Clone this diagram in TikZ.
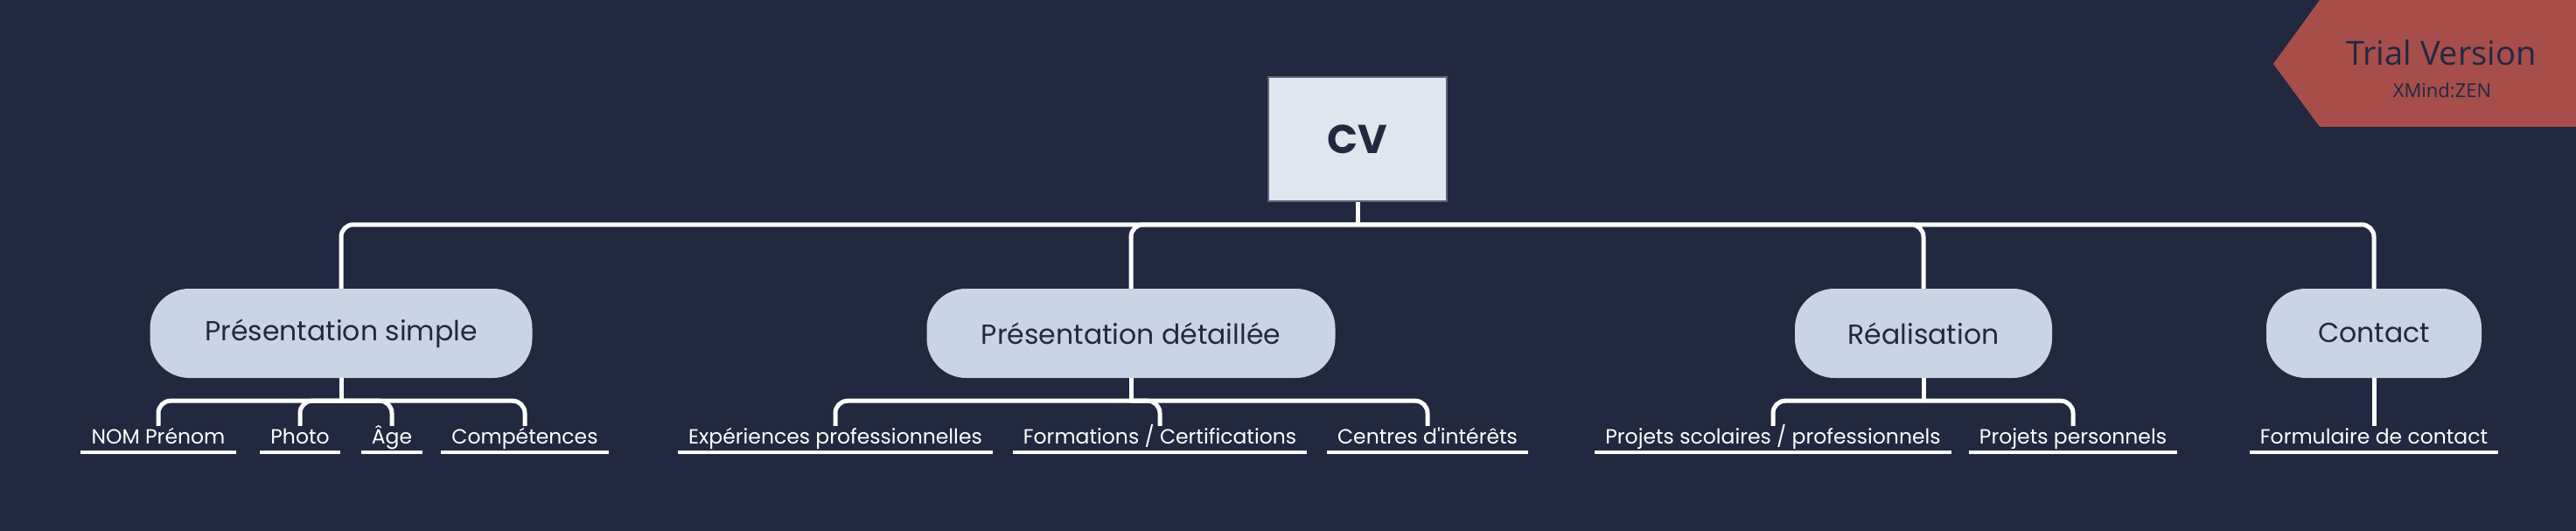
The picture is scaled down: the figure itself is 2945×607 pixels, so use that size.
\documentclass[tikz,border=0pt]{standalone}
\usepackage{fontspec}
\setmainfont{Poppins}
\newfontfamily\bannerfont{Open Sans}

\definecolor{bgnavy}{HTML}{222840}
\definecolor{topicfill}{HTML}{C9D4E6}
\definecolor{rootfill}{HTML}{E1E5ED}
\definecolor{rootline}{HTML}{5C6378}
\definecolor{trialred}{HTML}{A74E4A}

\begin{document}
\begin{tikzpicture}[x=1pt, y=-1pt,
    root/.style={rectangle, fill=rootfill, draw=rootline, line width=1.5pt, text=bgnavy,
        minimum width=204pt, minimum height=142pt, font=\fontsize{46}{54}\selectfont\bfseries},
    topic/.style={rectangle, rounded corners=45pt, fill=topicfill, text=bgnavy,
        minimum height=102pt, font=\fontsize{31.5}{38}\selectfont},
    leaf/.style={text=white, font=\fontsize{23.5}{28}\selectfont,
        text height=16pt, text depth=6pt, inner xsep=12pt, inner ysep=4pt},
    link/.style={draw=white, line width=5pt, rounded corners=14pt},
    uline/.style={white, line width=4pt}]

    % Background
    \fill[bgnavy] (0,0) rectangle (2945,607);
    \useasboundingbox (0,0) rectangle (2945,607);

    % Root
    \node[root] (cv) at (1552,159) {CV};

    % Main topics
    \node[topic, minimum width=437pt] (ps) at (390,381) {Présentation simple};
    \node[topic, minimum width=467pt] (pd) at (1293,381) {Présentation détaillée};
    \node[topic, minimum width=294pt] (re) at (2199,381) {Réalisation};
    \node[topic, minimum width=246pt] (co) at (2714,381) {Contact};

    % Subtopics
    \node[leaf] (nom) at (181,502) {NOM Prénom};
    \node[leaf] (photo) at (343,502) {Photo};
    \node[leaf] (age) at (448,502) {Âge};
    \node[leaf] (comp) at (600,502) {Compétences};
    \node[leaf] (exp) at (955,502) {Expériences professionnelles};
    \node[leaf] (form) at (1326,502) {Formations / Certifications};
    \node[leaf] (ci) at (1632,502) {Centres d\textquotesingle intérêts};
    \node[leaf] (pso) at (2027,502) {Projets scolaires / professionnels};
    \node[leaf] (ppe) at (2370,502) {Projets personnels};
    \node[leaf] (fc) at (2714,502) {Formulaire de contact};

    % Connectors
    \draw[link] (cv.south) -- ++(0,26);
    \foreach \t in {ps,pd,re,co}
        \draw[link] (cv.south) ++(0,26) -| (\t.north);
    \foreach \t in {ps,pd,re}
        \draw[link] (\t.south) -- ++(0,26);
    \foreach \t/\s in {ps/nom, ps/photo, ps/age, ps/comp, pd/exp, pd/form, pd/ci, re/pso, re/ppe}
        \draw[link] (\t.south) ++(0,26) -| (\s.north);
    \draw[link] (co.south) -- (fc.north);

    % Underlines
    \foreach \s in {nom,photo,age,comp,exp,form,ci,pso,ppe,fc}
        \draw[uline] (\s.south west) -- (\s.south east);

    % Trial banner
    \fill[trialred] (2652,0) -- (2945,0) -- (2945,145) -- (2652,145) -- (2599,73) -- cycle;
    \node[text=bgnavy, font=\bannerfont\fontsize{38}{42}\selectfont] (trial) at (2791,60) {Trial Version};
    \node[text=bgnavy, font=\bannerfont\fontsize{22}{26}\selectfont] (xmind) at (2792,103) {XMind:ZEN};
\end{tikzpicture}
\end{document}
